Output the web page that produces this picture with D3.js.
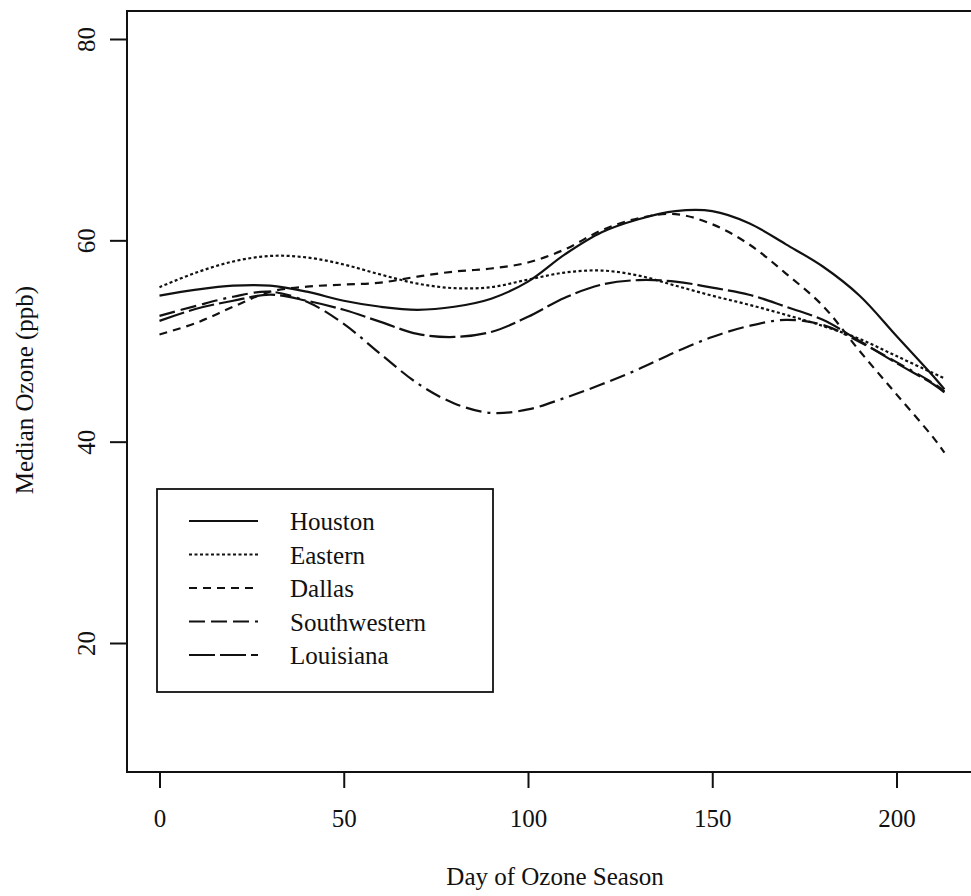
<!DOCTYPE html>
<html>
<head>
<meta charset="utf-8">
<script src="https://cdn.jsdelivr.net/npm/d3@7"></script>
<style>
  body { margin: 0; background: #fff; }
  text { font-family: "Liberation Serif", "Times New Roman", serif; fill: #111; }
</style>
</head>
<body>
<div id="chart"></div>
<script>
const days = [0, 10, 20, 30, 40, 50, 60, 70, 80, 90, 100, 110, 120, 130, 140, 150, 160, 170, 180, 190, 200, 210, 213];

const houston      = [54.5, 55.1, 55.5, 55.5, 54.9, 54.0, 53.4, 53.1, 53.4, 54.2, 55.9, 58.6, 60.8, 62.1, 62.9, 62.9, 61.7, 59.6, 57.4, 54.5, 50.5, 46.5, 45.2];
const eastern      = [55.35, 56.8, 57.9, 58.45, 58.3, 57.6, 56.6, 55.7, 55.25, 55.35, 56.1, 56.8, 57.0, 56.5, 55.5, 54.5, 53.6, 52.6, 51.5, 50.2, 48.5, 46.8, 46.3];
const dallas       = [50.65, 51.8, 53.4, 54.9, 55.4, 55.6, 55.8, 56.4, 56.9, 57.2, 57.8, 59.1, 61.0, 62.2, 62.6, 61.6, 59.6, 56.7, 53.5, 49.0, 44.7, 40.4, 38.9];
const southwestern = [52.5, 53.5, 54.4, 54.9, 53.9, 51.7, 48.7, 45.8, 43.8, 42.85, 43.2, 44.35, 45.7, 47.2, 48.9, 50.4, 51.5, 52.1, 51.6, 49.9, 47.9, 45.8, 45.0];
const louisiana    = [52.0, 53.2, 54.0, 54.6, 54.0, 53.1, 51.9, 50.7, 50.4, 50.9, 52.4, 54.3, 55.6, 56.05, 55.9, 55.3, 54.6, 53.4, 52.1, 50.0, 47.8, 45.7, 44.9];

const seriesNames = ["Houston", "Eastern", "Dallas", "Southwestern", "Louisiana"];
const seriesValues = [houston, eastern, dallas, southwestern, louisiana];
const dashes = ["none", "3,2.5", "8,6", "16,6,16,6,16,6,3,6", "26,5"];

const xTicks = [0, 50, 100, 150, 200];
const yTicks = [20, 40, 60, 80];

const W = 971, H = 896;
const box = {left: 127, top: 11, right: 976, bottom: 772};

const svg = d3.select("#chart").append("svg")
  .attr("width", W)
  .attr("height", H);

svg.append("rect").attr("width", W).attr("height", H).attr("fill", "#fff");

const x = d3.scaleLinear().domain([0, 200]).range([159.5, 896.5]);
const y = d3.scaleLinear().domain([20, 80]).range([643, 39]);

// plot frame
svg.append("rect")
  .attr("x", box.left)
  .attr("y", box.top)
  .attr("width", box.right - box.left)
  .attr("height", box.bottom - box.top)
  .attr("fill", "none")
  .attr("stroke", "#111")
  .attr("stroke-width", 2);

// x axis
const xAxis = svg.append("g")
  .attr("transform", "translate(0," + box.bottom + ")")
  .call(d3.axisBottom(x).tickValues(xTicks).tickSize(16).tickPadding(24).tickSizeOuter(0));
xAxis.select(".domain").remove();
xAxis.selectAll("line").attr("stroke", "#111").attr("stroke-width", 2);
xAxis.selectAll("text")
  .attr("dy", null)
  .attr("y", 55)
  .style("font-size", "25px")
  .style("font-family", "Liberation Serif");

// y axis with rotated labels
const yAxis = svg.append("g")
  .attr("transform", "translate(" + box.left + ",0)")
  .call(d3.axisLeft(y).tickValues(yTicks).tickSize(17).tickSizeOuter(0));
yAxis.select(".domain").remove();
yAxis.selectAll("line").attr("stroke", "#111").attr("stroke-width", 2);
yAxis.selectAll("text")
  .attr("x", null).attr("dy", null)
  .attr("text-anchor", "middle")
  .attr("transform", "translate(-32,0) rotate(-90)")
  .style("font-size", "25px")
  .style("font-family", "Liberation Serif");

// axis titles
svg.append("text")
  .attr("x", 555)
  .attr("y", 885)
  .attr("text-anchor", "middle")
  .style("font-size", "25px")
  .text("Day of Ozone Season");

svg.append("text")
  .attr("transform", "translate(33,390) rotate(-90)")
  .attr("text-anchor", "middle")
  .style("font-size", "25px")
  .text("Median Ozone (ppb)");

// curves
const line = d3.line()
  .x((d, i) => x(days[i]))
  .y(d => y(d))
  .curve(d3.curveCatmullRom.alpha(0.5));

svg.append("g")
  .selectAll("path")
  .data(seriesValues)
  .enter()
  .append("path")
  .attr("d", line)
  .attr("fill", "none")
  .attr("stroke", "#111")
  .attr("stroke-width", 2.2)
  .attr("stroke-dasharray", (d, i) => dashes[i]);

// legend
const legend = svg.append("g");
legend.append("rect")
  .attr("x", 157).attr("y", 489)
  .attr("width", 336).attr("height", 203)
  .attr("fill", "#fff")
  .attr("stroke", "#111")
  .attr("stroke-width", 1.8);

const rows = legend.selectAll("g.row")
  .data(seriesNames)
  .enter()
  .append("g")
  .attr("class", "row")
  .attr("transform", (d, i) => "translate(0," + (521 + i * 33.5) + ")");

rows.append("line")
  .attr("x1", 189).attr("x2", 258)
  .attr("stroke", "#111")
  .attr("stroke-width", 2.2)
  .attr("stroke-dasharray", (d, i) => dashes[i]);

rows.append("text")
  .attr("x", 290)
  .attr("y", 9)
  .style("font-size", "25px")
  .text(d => d);
</script>
</body>
</html>
